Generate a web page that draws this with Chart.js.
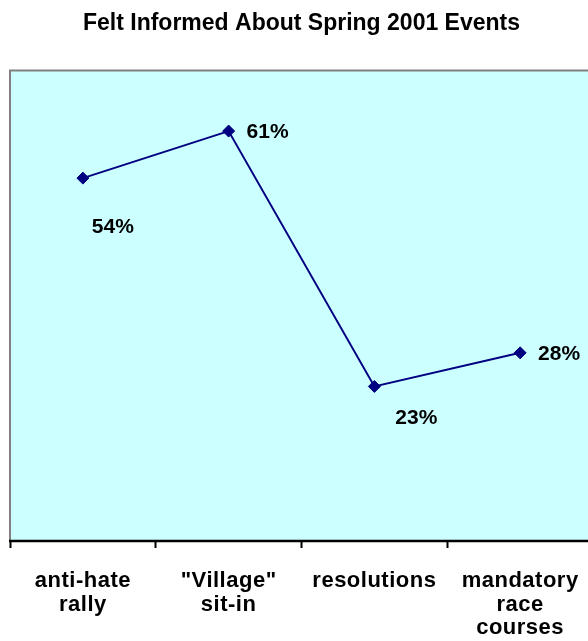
<!DOCTYPE html>
<html>
<head>
<meta charset="utf-8">
<script src="https://cdn.jsdelivr.net/npm/chart.js@4/dist/chart.umd.min.js"></script>
<style>
  html, body { margin: 0; padding: 0; background: #ffffff; overflow: hidden; }
  #wrap { width: 593px; height: 641px; }
</style>
</head>
<body>
<!-- the plot area runs a few pixels past the right edge of the window -->
<div id="wrap"><canvas id="c" width="593" height="641"></canvas></div>
<script>
// Share of students who felt informed about each event
const categories = [
  ['anti-hate', 'rally'],
  ['"Village"', 'sit-in'],
  ['resolutions'],
  ['mandatory', 'race', 'courses']
];
const informedPct = [54, 61, 23, 28];
const chartTitle = 'Felt Informed About Spring 2001 Events';

const NAVY = '#000080';
const FONT = "'Liberation Sans', Arial, sans-serif";

// Value labels sit beside or below each marker
const labelOffsets = [
  { dx: 30, dy: 49 },
  { dx: 39, dy: 1 },
  { dx: 42, dy: 32 },
  { dx: 39, dy: 1 }
];

const plotFrame = {
  id: 'plotFrame',
  beforeDatasetsDraw(chart) {
    const { ctx, chartArea: a } = chart;
    ctx.save();
    ctx.fillStyle = '#CCFFFF';
    ctx.fillRect(a.left, a.top, a.right - a.left, a.bottom - a.top);
    ctx.strokeStyle = '#808080';
    ctx.lineWidth = 2;
    ctx.beginPath();
    ctx.moveTo(a.left, a.bottom);
    ctx.lineTo(a.left, a.top);
    ctx.lineTo(a.right, a.top);
    ctx.lineTo(a.right, a.bottom);
    ctx.stroke();
    // x axis line drawn over the frame
    ctx.strokeStyle = '#000000';
    ctx.lineWidth = 2.5;
    ctx.beginPath();
    ctx.moveTo(a.left - 1, a.bottom);
    ctx.lineTo(a.right, a.bottom);
    ctx.stroke();
    ctx.restore();
  }
};

const valueLabels = {
  id: 'valueLabels',
  afterDatasetsDraw(chart) {
    const { ctx } = chart;
    const meta = chart.getDatasetMeta(0);
    ctx.save();
    if ('letterSpacing' in ctx) ctx.letterSpacing = '0px';
    ctx.font = 'bold 21px ' + FONT;
    ctx.fillStyle = '#000000';
    ctx.textAlign = 'center';
    ctx.textBaseline = 'middle';
    meta.data.forEach((pt, i) => {
      const off = labelOffsets[i];
      ctx.fillText(informedPct[i] + '%', pt.x + off.dx, pt.y + off.dy);
    });
    ctx.restore();
  }
};

// Category labels are drawn after the datasets with slightly wider tracking
const tickTracking = {
  id: 'tickTracking',
  afterDatasetsDraw(chart) {
    if ('letterSpacing' in chart.ctx) chart.ctx.letterSpacing = '0.5px';
  },
  afterDraw(chart) {
    if ('letterSpacing' in chart.ctx) chart.ctx.letterSpacing = '0px';
  }
};

new Chart(document.getElementById('c'), {
  type: 'line',
  data: {
    labels: categories,
    datasets: [{
      data: informedPct,
      borderColor: NAVY,
      borderWidth: 2,
      pointStyle: 'rectRot',
      pointRadius: 6,
      pointHoverRadius: 6,
      pointBackgroundColor: NAVY,
      pointBorderColor: NAVY,
      pointBorderWidth: 1,
      tension: 0,
      clip: false
    }]
  },
  options: {
    responsive: false,
    animation: false,
    events: [],
    layout: { autoPadding: false, padding: { left: 10, right: 0, top: 0, bottom: 0 } },
    plugins: {
      legend: { display: false },
      tooltip: { enabled: false },
      title: {
        display: true,
        text: chartTitle,
        color: '#000000',
        font: { family: FONT, size: 23, weight: 'bold', lineHeight: 1.2 },
        padding: { top: 10, bottom: 33 }
      }
    },
    scales: {
      x: {
        offset: true,
        border: { display: false },
        afterFit(scale) {
          scale.height = 100;
          scale.paddingLeft = 0;
          scale.paddingRight = 0;
        },
        grid: {
          offset: true,
          drawOnChartArea: false,
          drawTicks: true,
          tickLength: 7,
          tickWidth: 2,
          color: '#000000'
        },
        ticks: {
          z: 1,
          color: '#000000',
          font: { family: FONT, size: 22, weight: 'bold', lineHeight: 1.08 },
          padding: 21,
          maxRotation: 0,
          autoSkip: false
        }
      },
      y: {
        display: false,
        min: 0,
        max: 70
      }
    }
  },
  plugins: [plotFrame, valueLabels, tickTracking]
});
</script>
</body>
</html>
